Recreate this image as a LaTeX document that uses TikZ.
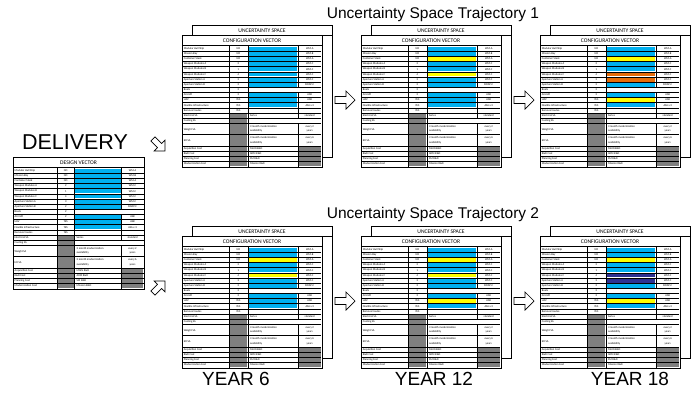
\documentclass[tikz,border=0pt]{standalone}
\usepackage{fontspec}
\setmainfont{Liberation Sans}
\newfontfamily\calfont{Carlito}
\definecolor{cblue}{HTML}{00B0F0}
\definecolor{cyel}{HTML}{FFFF00}
\definecolor{corg}{HTML}{E46C0A}
\definecolor{cnavy}{HTML}{2E3192}
\definecolor{cgray}{HTML}{7F7F7F}
\tikzset{
 tinyl/.style={font=\calfont\fontsize{2.8}{3}\selectfont, inner sep=0pt, anchor=west},
 tinyc/.style={font=\calfont\fontsize{2.8}{3}\selectfont, inner sep=0pt},
 hdr/.style={font=\calfont\fontsize{5.6}{6}\selectfont, inner sep=0pt},
 bigtxt/.style={font=\fontsize{19}{20}\selectfont, inner sep=0pt},
 dlvtxt/.style={font=\fontsize{21.5}{22}\selectfont, inner sep=0pt},
 ttl/.style={font=\fontsize{15.5}{16}\selectfont, inner sep=0pt},
 blockarrow/.style={draw=black, fill=white, line width=0.7pt, line join=miter},
 gridln/.style={line width=0.45pt},
 frameln/.style={line width=0.9pt},
}
% table body: #1 x, #2 y, #3 header, #4 colour list (13), #5 name prefix, #6 xscale
\newcommand\ctab[6]{%
\begin{scope}[shift={(#1,#2)}, xscale=#6]
 \fill[white] (0,0) rectangle (131,132);
 \node[hdr] (#5-h) at (65.5,5.6) {#3};
 \foreach \c [count=\i] in {#4}{
   \pgfmathsetmacro\yt{11+(\i-1)*5.15}
   \fill[\c] (62.0,\yt+0.55) rectangle (108.0,\yt+4.6);
 }
 \fill[cgray] (44.5,78.4) rectangle (61.0,131.0);
 \fill[cgray] (109.0,111.3) rectangle (130.0,131.0);
 \foreach \lab/\val/\lst [count=\i] in {Modular Hull Ship/NO/WM-A, Mission Bay/NO/WM-B, Container Stack/NO/WM-A, Weapon Modules A/2/WM-C, Weapon Modules B/1/WM-C, Weapon Modules C/4/WM-C, Aperture Station A/3/WM-C, Aperture Station B/2/SWAP-C, Boats/2/{}, Aircraft/2/ASB, UAV/YES/ASB, Flexible Infrastructure/YES/ASA x 3, Removal routes/YES/{}, Electrical SA/{}/standard, Cooling SA/{}/{}}{
   \pgfmathsetmacro\ym{11+(\i-0.5)*5.15}
   \node[tinyl] (#5-l\i) at (1.5,\ym) {\lab};
   \node[tinyc] (#5-v\i) at (52.75,\ym) {\val};
   \node[tinyc] (#5-e\i) at (119.5,\ym) {\lst};
 }
 \node[tinyl] (#5-s14) at (63.5,80.5) {Series};
 \node[tinyl] (#5-l16) at (1.5,94.5) {Weight SA};
 \node[tinyl] (#5-l17) at (1.5,105.8) {EO SA};
 \node[tinyl, align=left] (#5-s16) at (63.5,93.9) {3 month modernization\\[1.2pt]availability};
 \node[tinyl, align=left] (#5-s17) at (63.5,105.2) {3 month modernization\\[1.2pt]availability};
 \node[tinyc, align=center] (#5-e16) at (119.5,93.9) {every 2\\[1.2pt]years};
 \node[tinyc, align=center] (#5-e17) at (119.5,105.2) {every 6\\[1.2pt]years};
 \foreach \lab/\rd [count=\k] in {Acquisition Cost/MAIN R\&D, R\&D Cost/ARM R\&D, Planning Cost/SM R\&D, Modernization Cost/Mission R\&D}{
   \pgfmathsetmacro\ym{110.85+(\k-0.5)*5.15}
   \node[tinyl] (#5-c\k) at (1.5,\ym) {\lab};
   \node[tinyl] (#5-r\k) at (63.5,\ym) {\rd};
 }
 \foreach \i in {1,...,15}{
   \pgfmathsetmacro\yy{11+\i*5.15}
   \draw[gridln] (0.5,\yy) -- (130.5,\yy);
 }
 \foreach \yy in {99.55,110.85,116.0,121.15,126.3}{
   \draw[gridln] (0.5,\yy) -- (130.5,\yy);
 }
 \draw[gridln] (44,11) -- (44,131.5);
 \draw[gridln] (61.5,11) -- (61.5,131.5);
 \draw[gridln] (108.5,11) -- (108.5,52.2);
 \draw[gridln] (108.5,57.35) -- (108.5,83.1);
 \draw[gridln] (108.5,88.25) -- (108.5,131.5);
 \draw[frameln] (0,10.6) -- (131,10.6);
 \draw[frameln] (0,0) rectangle (131,132);
\end{scope}}
% back box: #1 x, #2 y (of front box), #3 name, #4 xscale
\newcommand\backbox[4]{%
\begin{scope}[shift={(#1,#2)}, xscale=#4]
 \draw[frameln, fill=white] (9.4,-10) rectangle (140.4,122);
 \draw[frameln] (9.4,0) -- (140.4,0);
 \node[hdr] (#3-u) at (74.9,-4.6) {UNCERTAINTY SPACE};
\end{scope}}
\newcommand\barrow[4]{% x y rotation scale
\draw[blockarrow, shift={(#1,#2)}, rotate=#3, scale=#4] (-10,-3.5) -- (1,-3.5) -- (1,-9) -- (10,0) -- (1,9) -- (1,3.5) -- (-10,3.5) -- cycle;}
\def\B{cblue}\def\Y{cyel}\def\W{white}
\def\XS{1.0687}
\begin{document}
\begin{tikzpicture}[x=1pt,y=-1pt]
\fill[white] (0,0) rectangle (694,400);
\useasboundingbox (0,0) rectangle (694,400);
% titles
\node[ttl] (t1) at (433,14) {Uncertainty Space Trajectory 1};
\node[ttl] (t2) at (433,214) {Uncertainty Space Trajectory 2};
\node[dlvtxt] (dl) at (75,142) {DELIVERY};
\node[bigtxt] (y6) at (236,379) {YEAR 6};
\node[bigtxt] (y12) at (434,379) {YEAR 12};
\node[bigtxt] (y18) at (630,379) {YEAR 18};
% delivery
\ctab{13}{157}{DESIGN VECTOR}{\B,\B,\B,\B,\B,\B,\B,\B,\W,\B,\B,\B,\W}{d}{1}
% top row
\backbox{182}{35}{a1}{\XS}\ctab{182}{35}{CONFIGURATION VECTOR}{\B,\B,\B,\B,\B,\B,\B,\B,\W,\B,\B,\B,\W}{a1}{\XS}
\backbox{361}{35}{a2}{\XS}\ctab{361}{35}{CONFIGURATION VECTOR}{\B,\B,\Y,\B,\B,\Y,\B,\B,\W,\B,\B,\B,\W}{a2}{\XS}
\backbox{540}{35}{a3}{\XS}\ctab{540}{35}{CONFIGURATION VECTOR}{\B,\B,\Y,\B,\B,corg,corg,\B,\W,\B,\Y,\B,\W}{a3}{\XS}
% bottom row
\backbox{182}{236}{b1}{\XS}\ctab{182}{236}{CONFIGURATION VECTOR}{\B,\B,\Y,\B,\B,\Y,\B,\B,\W,\B,\B,\B,\W}{b1}{\XS}
\backbox{361}{236}{b2}{\XS}\ctab{361}{236}{CONFIGURATION VECTOR}{\B,\B,\Y,\B,\B,\Y,\B,\B,\W,\B,\Y,\B,\W}{b2}{\XS}
\backbox{540}{236}{b3}{\XS}\ctab{540}{236}{CONFIGURATION VECTOR}{\B,\B,\Y,\B,\B,cnavy,cnavy,\B,\W,\B,\Y,\B,\W}{b3}{\XS}
% arrows
\barrow{345}{100}{0}{1}
\barrow{524}{100}{0}{1}
\barrow{345}{301}{0}{1}
\barrow{524}{301}{0}{1}
\barrow{159}{145}{-45}{0.85}
\barrow{159}{287}{45}{0.85}
\end{tikzpicture}
\end{document}
